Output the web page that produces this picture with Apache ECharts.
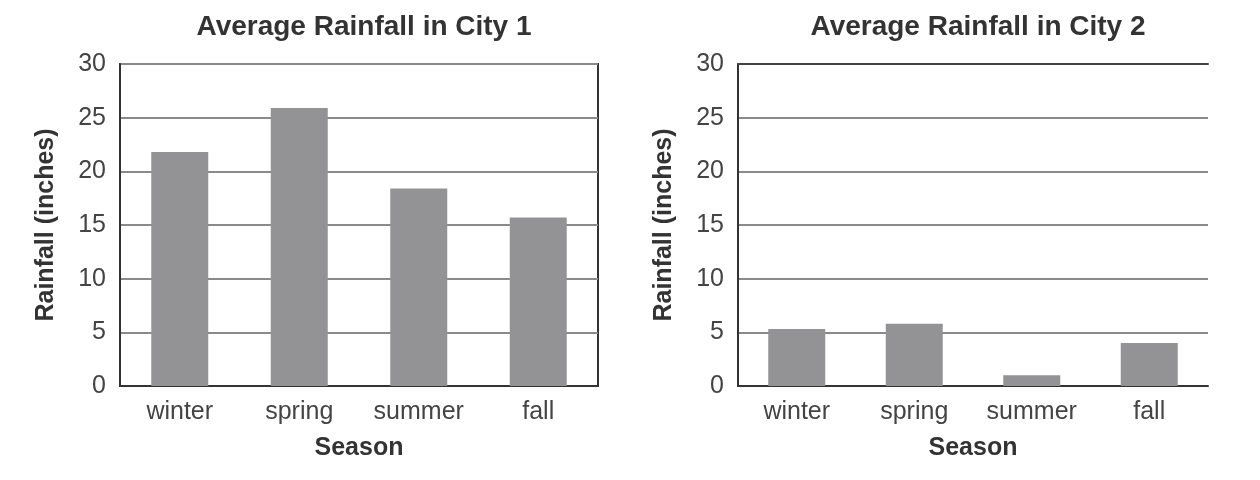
<!DOCTYPE html>
<html><head><meta charset="utf-8">
<script src="https://cdn.jsdelivr.net/npm/echarts@6/dist/echarts.min.js"></script>
<style>html,body{margin:0;padding:0;background:#fff}#c{width:1260px;height:480px}</style>
</head><body><div id="c"></div>
<script>
const categories = ['winter', 'spring', 'summer', 'fall'];
const city1 = [21.8, 25.9, 18.4, 15.7];
const city2 = [5.3, 5.8, 1.0, 4.0];
const titles = ['Average Rainfall in City 1', 'Average Rainfall in City 2'];
const yTicks = [0, 5, 10, 15, 20, 25, 30];

const font = 'Liberation Sans, Arial, sans-serif';
const chart = echarts.init(document.getElementById('c'));
const grids = [
  {left: 120, top: 64, width: 478, height: 322},
  {left: 738, top: 64, width: 470, height: 322}
];
function yAxis(i) {
  return {
    type: 'value', gridIndex: i, min: yTicks[0], max: yTicks[yTicks.length - 1], interval: 5,
    name: 'Rainfall (inches)', nameLocation: 'middle', nameGap: 61, nameRotate: 90,
    nameTextStyle: {fontFamily: font, fontSize: 25, fontWeight: 'bold', color: '#333'},
    axisLine: {show: true, lineStyle: {color: '#333', width: 2}},
    axisTick: {show: false},
    axisLabel: {fontFamily: font, fontSize: 25, color: '#444', margin: 14, padding: [5, 0, 0, 0]},
    splitLine: {show: true, lineStyle: {color: '#8a8a8a', width: 2}}
  };
}
function xAxis(i) {
  return {
    type: 'category', gridIndex: i, data: categories,
    name: 'Season', nameLocation: 'middle', nameGap: 50,
    nameTextStyle: {fontFamily: font, fontSize: 25, fontWeight: 'bold', color: '#333'},
    axisLine: {show: true, lineStyle: {color: '#333', width: 2}},
    axisTick: {show: false},
    axisLabel: {fontFamily: font, fontSize: 25, color: '#444', margin: 14},
    splitLine: {show: false}
  };
}
function topAxis(i) {
  return {
    type: 'category', gridIndex: i, data: categories, position: 'top',
    axisLine: {show: true, lineStyle: {color: '#444', width: 2}},
    axisTick: {show: false}, axisLabel: {show: false}, splitLine: {show: false}
  };
}
const option = {
  animation: false,
  backgroundColor: '#fff',
  title: titles.map((t, i) => ({
    text: t, left: grids[i].left + grids[i].width / 2, top: 8, textAlign: 'center',
    textStyle: {fontFamily: font, fontSize: 28, fontWeight: 'bold', color: '#333'}
  })),
  grid: [
    Object.assign({show: true, borderColor: '#333', borderWidth: 2, backgroundColor: 'transparent'}, grids[0]),
    Object.assign({show: false}, grids[1])
  ],
  xAxis: [xAxis(0), xAxis(1), topAxis(1)],
  yAxis: [yAxis(0), yAxis(1)],
  series: [
    {type: 'bar', xAxisIndex: 0, yAxisIndex: 0, data: city1, barWidth: 57,
     itemStyle: {color: '#939395'}},
    {type: 'bar', xAxisIndex: 1, yAxisIndex: 1, data: city2, barWidth: 57,
     itemStyle: {color: '#939395'}}
  ]
};
chart.setOption(option);
</script>
</body></html>
